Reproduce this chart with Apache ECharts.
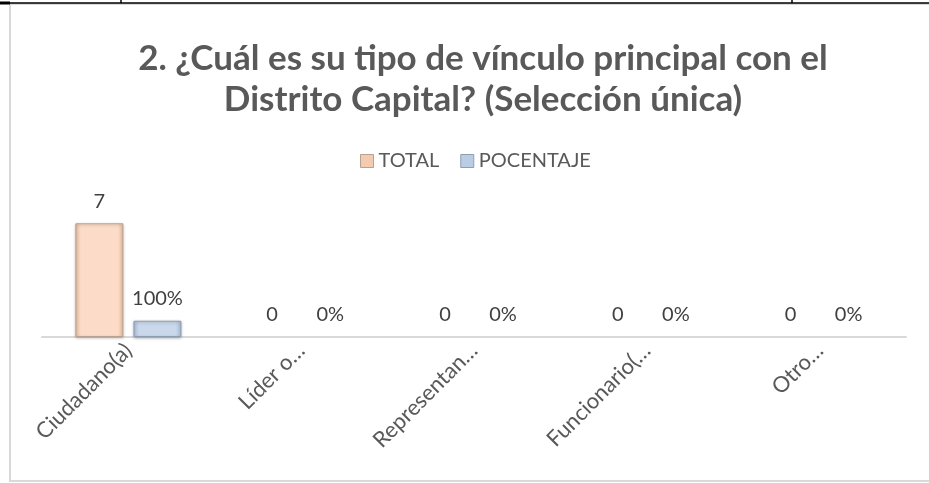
<!DOCTYPE html>
<html>
<head>
<meta charset="utf-8">
<script src="https://cdn.jsdelivr.net/npm/echarts@6/dist/echarts.min.js"></script>
<style>
  html, body { margin: 0; padding: 0; background: #fff; }
  #chart { width: 929px; height: 483px; }
</style>
</head>
<body>
<div id="chart"></div>
<script>
var categories = ['Ciudadano(a)', 'Líder o…', 'Representan…', 'Funcionario(…', 'Otro…'];
var totalValues = [7, 0, 0, 0, 0];
var percentValues = [1, 0, 0, 0, 0];
var seriesNames = ['TOTAL', 'POCENTAJE'];

var font = 'Lato, "Open Sans", sans-serif';

function bevel(edge, mid) {
  return {
    type: 'linear', x: 0, y: 0, x2: 1, y2: 0,
    colorStops: [
      { offset: 0, color: edge },
      { offset: 0.12, color: mid },
      { offset: 0.88, color: mid },
      { offset: 1, color: edge }
    ]
  };
}

// zero bars show no outline in the original, only the label
function toData(values) {
  return values.map(function (v) {
    if (v === 0) return { value: 0, itemStyle: { color: 'transparent', borderWidth: 0, shadowBlur: 0 } };
    return v;
  });
}

var chart = echarts.init(document.getElementById('chart'));

var totalStyle = {
  color: bevel('#E9BFA3', '#FCDCC8'),
  borderColor: '#B9A191',
  borderWidth: 1,
  shadowColor: 'rgba(0,0,0,0.25)',
  shadowBlur: 3,
  shadowOffsetY: 1
};
var pctStyle = {
  color: bevel('#A9BEDA', '#C9D8EB'),
  borderColor: '#8E9DB1',
  borderWidth: 1,
  shadowColor: 'rgba(0,0,0,0.25)',
  shadowBlur: 3,
  shadowOffsetY: 1
};

var option = {
  animation: false,
  backgroundColor: '#fff',
  title: {
    text: '2. ¿Cuál es su tipo de vínculo principal con el\nDistrito Capital? (Selección única)',
    left: 478,
    textAlign: 'center',
    top: 33,
    textStyle: {
      fontFamily: font,
      fontWeight: 'bold',
      fontSize: 35,
      lineHeight: 41,
      color: '#595959'
    }
  },
  legend: {
    data: [
      { name: seriesNames[0], itemStyle: { color: '#F2CBB1', borderColor: '#B9A191', borderWidth: 1 } },
      { name: seriesNames[1], itemStyle: { color: '#BACDE4', borderColor: '#8E9DB1', borderWidth: 1 } }
    ],
    top: 146,
    left: 355,
    itemWidth: 13,
    itemHeight: 13,
    itemGap: 21,
    icon: 'rect',
    textStyle: { fontFamily: font, fontSize: 20, color: '#595959' }
  },
  grid: { left: 42, right: 23, top: 207, bottom: 146 },
  xAxis: {
    type: 'category',
    data: categories,
    axisLine: { lineStyle: { color: '#D9D9D9', width: 2 } },
    axisTick: { show: false },
    axisLabel: {
      rotate: 45,
      interval: 0,
      margin: 10,
      fontFamily: font,
      fontSize: 22,
      color: '#595959'
    }
  },
  yAxis: {
    type: 'value',
    min: 0,
    max: 8,
    show: false,
    splitLine: { show: false }
  },
  series: [
    {
      name: seriesNames[0],
      type: 'bar',
      data: toData(totalValues),
      barWidth: 48,
      barGap: '21%',
      itemStyle: totalStyle,
      label: {
        show: true,
        position: 'top',
        distance: 12,
        fontFamily: font,
        fontSize: 20,
        color: '#404040'
      }
    },
    {
      name: seriesNames[1],
      type: 'bar',
      data: toData(percentValues),
      barWidth: 48,
      itemStyle: pctStyle,
      label: {
        show: true,
        position: 'top',
        distance: 12,
        fontFamily: font,
        fontSize: 20,
        color: '#404040',
        formatter: function (p) { return Math.round(p.value * 100) + '%'; }
      }
    }
  ],
  graphic: [
    // outer chart frame
    { type: 'rect', shape: { x: 10, y: 4, width: 930, height: 477 },
      style: { fill: 'none', stroke: '#D9D9D9', lineWidth: 2 }, silent: true },
    // table border lines at the top
    { type: 'line', shape: { x1: 0, y1: 3, x2: 929, y2: 3 },
      style: { stroke: '#000', lineWidth: 1.5 }, silent: true },
    { type: 'line', shape: { x1: 0, y1: 3, x2: 10, y2: 3 },
      style: { stroke: '#000', lineWidth: 3 }, silent: true },
    { type: 'line', shape: { x1: 121, y1: 0, x2: 121, y2: 3 },
      style: { stroke: '#000', lineWidth: 1.5 }, silent: true },
    { type: 'line', shape: { x1: 792, y1: 0, x2: 792, y2: 3 },
      style: { stroke: '#000', lineWidth: 1.5 }, silent: true }
  ]
};

chart.setOption(option);
</script>
</body>
</html>
